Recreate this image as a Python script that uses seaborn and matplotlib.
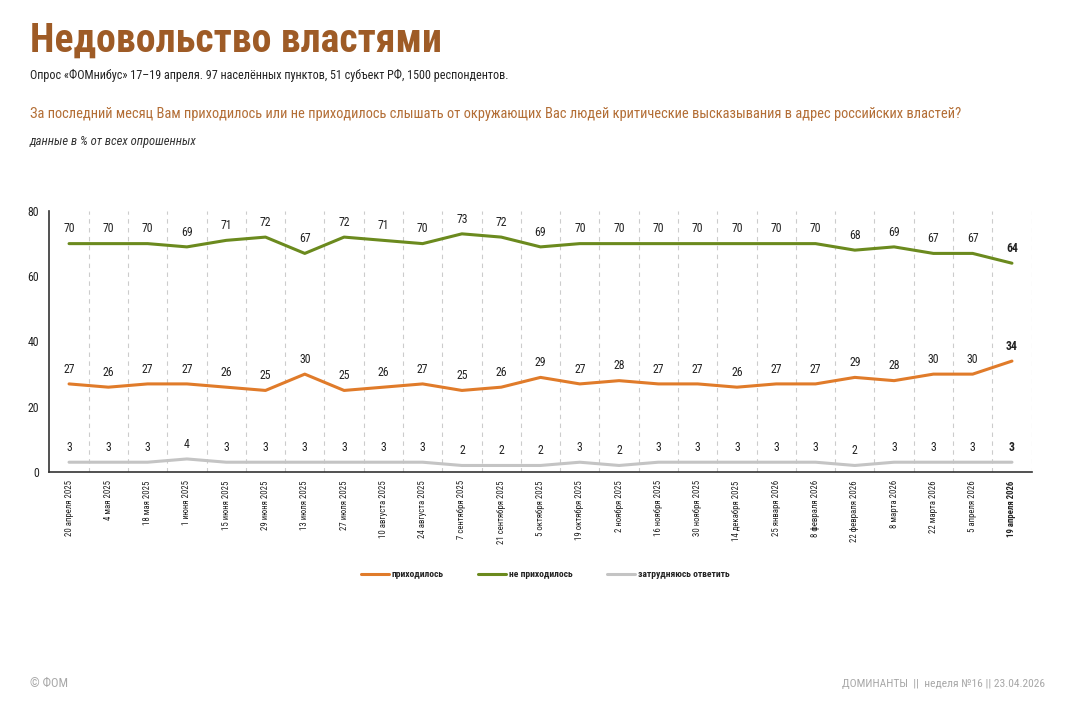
import pandas as pd
import seaborn as sns
import matplotlib.pyplot as plt
from matplotlib import font_manager as fm

# --- данные ---
dates = ['20 апреля 2025', '4 мая 2025', '18 мая 2025', '1 июня 2025', '15 июня 2025',
         '29 июня 2025', '13 июля 2025', '27 июля 2025', '10 августа 2025', '24 августа 2025',
         '7 сентября 2025', '21 сентября 2025', '5 октября 2025', '19 октября 2025',
         '2 ноября 2025', '16 ноября 2025', '30 ноября 2025', '14 декабря 2025',
         '25 января 2026', '8 февраля 2026', '22 февраля 2026', '8 марта 2026',
         '22 марта 2026', '5 апреля 2026', '19 апреля 2026']
heard = [27, 26, 27, 27, 26, 25, 30, 25, 26, 27, 25, 26, 29, 27, 28, 27, 27, 26, 27, 27,
         29, 28, 30, 30, 34]
not_heard = [70, 70, 70, 69, 71, 72, 67, 72, 71, 70, 73, 72, 69, 70, 70, 70, 70, 70, 70, 70,
             68, 69, 67, 67, 64]
hard_to_say = [3, 3, 3, 4, 3, 3, 3, 3, 3, 3, 2, 2, 2, 3, 2, 3, 3, 3, 3, 3, 2, 3, 3, 3, 3]

series_names = ['приходилось', 'не приходилось', 'затрудняюсь ответить']
series_values = [heard, not_heard, hard_to_say]
colors = ['#E07B2A', '#6B8A1E', '#C4C4C4']

# --- шрифты: ищем узкий, иначе Roboto ---
names = {f.name for f in fm.fontManager.ttflist}
FONT = 'DejaVu Sans'
for cand in ['Liberation Sans Narrow', 'Roboto Condensed', 'Open Sans Condensed', 'Roboto']:
    if cand in names:
        FONT = cand
        break

sns.set_style('white')
plt.rcParams['font.family'] = [FONT, 'DejaVu Sans']

rows = []
for name, vals in zip(series_names, series_values):
    for i, v in enumerate(vals):
        rows.append({'idx': i, 'value': v, 'series': name})
df = pd.DataFrame(rows)

fig = plt.figure(figsize=(10.86, 7.02), dpi=100)
renderer = fig.canvas.get_renderer()


def fit_width(txt, target_px):
    # подгоняем размер шрифта под ширину текста в оригинале
    w = txt.get_window_extent(renderer=renderer).width
    txt.set_fontsize(txt.get_fontsize() * target_px / w)


ax = fig.add_axes([49.4 / 1086, 230 / 702, 982.2 / 1086, 261 / 702])

sns.lineplot(data=df, x='idx', y='value', hue='series', palette=colors,
             hue_order=series_names, linewidth=2.2, ax=ax, sort=False)

n = len(dates)
last = n - 1
for vals in series_values:
    for i, v in enumerate(vals):
        ax.annotate(str(v), (i, v), xytext=(0, 6), textcoords='offset points',
                    ha='center', va='bottom', fontsize=8.5, color='#222222',
                    fontweight='bold' if i == last else 'normal')

ax.set_xlim(-0.5, n - 0.5)
ax.set_ylim(0, 80)
ax.set_yticks([0, 20, 40, 60, 80])
ax.set_xticks(range(n))
ax.set_xticklabels(dates, rotation=90, fontsize=6.3)
ax.get_xticklabels()[last].set_fontweight('bold')
ax.set_xticks([i + 0.5 for i in range(n)], minor=True)
ax.tick_params(axis='x', which='major', length=0, pad=6, colors='#222222')
ax.tick_params(axis='x', which='minor', length=3, color='#999999', direction='out')
ax.tick_params(axis='y', length=4, color='#333333', labelsize=8.5, labelcolor='#222222')
ax.grid(axis='x', which='minor', linestyle=(0, (4, 4)), color='#CCCCCC', linewidth=0.8)
ax.grid(axis='y', visible=False)
ax.grid(axis='x', which='major', visible=False)
ax.set_xlabel('')
ax.set_ylabel('')
for side in ['top', 'right']:
    ax.spines[side].set_visible(False)
for side in ['left', 'bottom']:
    ax.spines[side].set_color('#333333')
    ax.spines[side].set_linewidth(1.2)

sns.move_legend(ax, 'center', bbox_to_anchor=(0.502, 0.181), bbox_transform=fig.transFigure,
                ncol=3, frameon=False, title=None, fontsize=6.8, handlelength=3,
                handletextpad=0.3, columnspacing=3.6)
for t in ax.get_legend().get_texts():
    t.set_fontweight('bold')
    t.set_color('#222222')

# --- заголовки ---
t = fig.text(30 / 1086, 1 - 52 / 702, 'Недовольство властями', fontsize=33, fontweight='bold',
             color='#9E5B26', va='baseline')
fit_width(t, 413)
t = fig.text(30 / 1086, 1 - 79 / 702,
             'Опрос «ФОМнибус» 17–19 апреля. 97 населённых пунктов, 51 субъект РФ, 1500 респондентов.',
             fontsize=9.5, color='#222222', va='baseline')
fit_width(t, 480)
t = fig.text(30 / 1086, 1 - 118 / 702,
             'За последний месяц Вам приходилось или не приходилось слышать от окружающих Вас людей '
             'критические высказывания в адрес российских властей?',
             fontsize=11.5, color='#B36E36', va='baseline')
fit_width(t, 935)
t = fig.text(30 / 1086, 1 - 145 / 702, 'данные в % от всех опрошенных', fontsize=8,
             style='italic', color='#333333', va='baseline')
fit_width(t, 167)

t = fig.text(30 / 1086, 1 - 687 / 702, '© ФОМ', fontsize=8, color='#A8A8A8', va='baseline')
fit_width(t, 38)
t = fig.text(1045 / 1086, 1 - 687 / 702, 'ДОМИНАНТЫ  ||  неделя №16 || 23.04.2026', fontsize=8,
             color='#A8A8A8', va='baseline', ha='right')
fit_width(t, 202)

fig.savefig('out.png', dpi=100)
